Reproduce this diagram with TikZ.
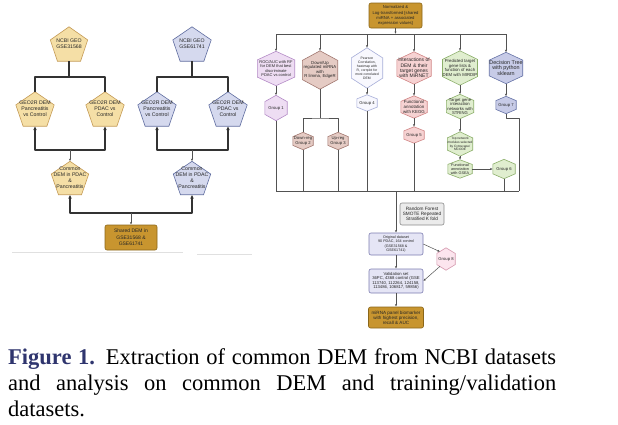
\documentclass[tikz,border=0pt]{standalone}
\usepackage{fontspec}
\setmainfont{Liberation Serif}
\newfontfamily\dgfont{Liberation Sans}
\usetikzlibrary{arrows.meta,backgrounds,calc}
\definecolor{tanF}{HTML}{F5DFA6}\definecolor{tanD}{HTML}{C49A55}
\definecolor{bluF}{HTML}{D5D9EE}\definecolor{bluD}{HTML}{5F6C9F}
\definecolor{gldF}{HTML}{C8952F}\definecolor{gldD}{HTML}{8A6619}
\definecolor{purF}{HTML}{EEDDF3}\definecolor{purD}{HTML}{B48BC6}
\definecolor{brnF}{HTML}{E5CBC4}\definecolor{brnD}{HTML}{A1776F}
\definecolor{palF}{HTML}{F8F8FE}\definecolor{palD}{HTML}{A6ADD8}
\definecolor{redF}{HTML}{F6D2D2}\definecolor{redD}{HTML}{D08585}
\definecolor{grnF}{HTML}{E0EECF}\definecolor{grnD}{HTML}{8BAE69}
\definecolor{navF}{HTML}{C7CBE7}\definecolor{navD}{HTML}{6572A6}
\definecolor{gryF}{HTML}{EBEBEB}\definecolor{gryD}{HTML}{8A8A8A}
\definecolor{lavF}{HTML}{E5E5F5}\definecolor{lavD}{HTML}{7C7CB0}
\definecolor{pnkF}{HTML}{FCE5EE}\definecolor{pnkD}{HTML}{D498AD}
\definecolor{capblue}{HTML}{2F356E}
\definecolor{wire}{HTML}{333333}

\begin{document}
\begin{tikzpicture}[x=1pt,y=-1pt,join=round,
	cell/.style 2 args={minimum width=#1pt,minimum height=#2pt,inner sep=0pt,align=center,text=black!85},
	fs/.style 2 args={font=\dgfont\fontsize{#1}{#2}\selectfont},
	rbox/.style={draw=#1D,fill=#1F,rounded corners=2pt,line width=.6pt},
	lw/.style={draw=wire,line width=1.1pt},
	rw/.style={draw=wire!85,line width=.5pt},
	twoway/.style={{Latex[length=3.8pt,width=3.6pt]}-{Latex[length=3.8pt,width=3.6pt]}},
	sarr/.style={-{Latex[length=2.4pt,width=2.2pt]}}]
	\path[use as bounding box] (0,0) rectangle (618,424);
	\node[cell={37}{34},fs={5.2}{6}] (geoA) at (69,44) {NCBI GEO\\GSE31568};
	\node[cell={38}{34},fs={5.2}{6}] (pa1) at (35,109) {GEO2R DEM\\Pancreatitis\\vs Control};
	\node[cell={38}{34},fs={5.2}{6}] (pa2) at (105,109) {GEO2R DEM\\PDAC vs\\Control};
	\node[cell={37}{33},fs={5.2}{6}] (cmA) at (70,178) {Common\\DEM in PDAC\\\&\\Pancreatitis};
	\node[cell={38}{34},fs={5.2}{6}] (geoB) at (192,44) {NCBI GEO\\GSE61741};
	\node[cell={38}{34},fs={5.2}{6}] (pb1) at (157,109) {GEO2R DEM\\Pancreatitis\\vs Control};
	\node[cell={38}{34},fs={5.2}{6}] (pb2) at (228,109) {GEO2R DEM\\PDAC vs\\Control};
	\node[cell={37}{33},fs={5.2}{6}] (cmB) at (192,178) {Common\\DEM in PDAC\\\&\\Pancreatitis};
	\node[cell={52}{25},fs={5}{6.3},rbox=gld] (shared) at (131,237.5) {Shared DEM in\\GSE31568 \&\\GSE61741};
	\node[cell={53}{25},fs={4.2}{5.1},rbox=gld] (norm) at (395.5,15.5) {Normalized \&\\Log-transformed [shared\\miRNA + associated\\expression values]};
	\node[cell={37}{34},fs={4}{4.5}] (roc) at (276,68.5) {ROC/AUC with RF\\for DEM that best\\discriminate\\PDAC vs control};
	\node[cell={35}{38},fs={4.3}{4.5}] (dwn) at (320,70) {Down/Up\\regulated miRNA\\with\\R limma, EdgeR};
	\node[cell={31}{40},fs={3.4}{4}] (prs) at (367,68) {Pearson\\Correlation,\\heatmap with\\R, corrplot for\\most correlated\\DEM};
	\node[cell={34}{32},fs={5}{5.2}] (intr) at (414,68) {Interactions of\\DEM \& their\\target genes\\with MiRNET};
	\node[cell={34}{34},fs={4.3}{4.5}] (pred) at (460,68) {Predicted target\\gene lists \&\\function of each\\DEM with MIRDIP};
	\node[cell={33}{31},fs={5.4}{5}] (dtr) at (506,68) {Decision Tree\\with python\\sklearn};
	\node[cell={22}{25},fs={4.2}{5}] (g1) at (276,108) {Group 1};
	\node[cell={20}{17},fs={4.2}{4.5}] (g2) at (303,141) {Down-reg\\Group 2};
	\node[cell={20}{17},fs={4.2}{4.5}] (g3) at (338,141) {Up-reg\\Group 3};
	\node[cell={20}{16},fs={4.2}{5}] (g4) at (367,103) {Group 4};
	\node[cell={26}{22},fs={4.4}{4.6}] (kegg) at (414,107) {Functional\\annotation\\with KEGG};
	\node[cell={20}{16},fs={4.2}{5}] (g5) at (414,135) {Group 5};
	\node[cell={27}{24},fs={4.2}{4.2}] (strg) at (460,106.5) {Target gene\\interaction\\networks with\\STRING};
	\node[cell={25}{24},fs={3.2}{3.8}] (mcod) at (460,144) {Top network\\modules selected\\by Cytoscape/\\MCODE};
	\node[cell={24}{18},fs={3.8}{4}] (gsea) at (460,169) {Functional\\annotation\\with GSEA};
	\node[cell={22}{19},fs={4.2}{5}] (g6) at (504,169) {Group 6};
	\node[cell={20}{17},fs={4.2}{5}] (g7) at (506,105) {Group 7};
	\node[cell={44}{22},fs={4.7}{5.2},rbox=gry] (rf) at (422,214) {Random Forest\\SMOTE Repeated\\Stratified K fold};
	\node[cell={54}{22},fs={3.7}{4.5},rbox=lav] (orig) at (396,244) {Original dataset\\90 PDAC, 164 control\\(GSE31568 \&\\GSE61741)};
	\node[cell={18}{22},fs={4.2}{5}] (g8) at (446,259) {Group 8};
	\node[cell={54}{24},fs={4.2}{4.3},rbox=lav] (valid) at (396,281) {Validation set\\36PC, 4368 control (GSE\\113740, 112264, 124158,\\113486, 106817, 59856)};
	\node[cell={55}{21},fs={4.6}{5},rbox=gld] (final) at (396,317.5) {miRNA panel biomarker\\with highest precision,\\recall \& AUC};
	\begin{scope}[on background layer]
		\foreach \n/\fc/\dc in {geoA/tanF/tanD,pa1/tanF/tanD,pa2/tanF/tanD,cmA/tanF/tanD,geoB/bluF/bluD,pb1/bluF/bluD,pb2/bluF/bluD,cmB/bluF/bluD}
		\filldraw[fill=\fc,draw=\dc,line width=.6pt] (\n.north) -- ($(\n.north east)!.382!(\n.south east)$) -- ($(\n.south east)!.191!(\n.south west)$) -- ($(\n.south west)!.191!(\n.south east)$) -- ($(\n.north west)!.382!(\n.south west)$) -- cycle;
		\foreach \n/\fc/\dc in {roc/purF/purD,g1/purF/purD,dwn/brnF/brnD,g2/brnF/brnD,g3/brnF/brnD,prs/palF/palD,g4/palF/palD,intr/redF/redD,kegg/redF/redD,g5/redF/redD,pred/grnF/grnD,strg/grnF/grnD,mcod/grnF/grnD,gsea/grnF/grnD,g6/grnF/grnD,dtr/navF/navD,g7/navF/navD,g8/pnkF/pnkD}
		\filldraw[fill=\fc,draw=\dc,line width=.6pt] (\n.north) -- ($(\n.north east)!.25!(\n.south east)$) -- ($(\n.north east)!.75!(\n.south east)$) -- (\n.south) -- ($(\n.north west)!.75!(\n.south west)$) -- ($(\n.north west)!.25!(\n.south west)$) -- cycle;
	\end{scope}
	\path
	(70,77) coordinate (busA) (192,77) coordinate (busB)
	(70,150) coordinate (upA) (192,150) coordinate (upB) (131,213) coordinate (upC)
	(395.5,34) coordinate (busT) (320,118) coordinate (busD)
	(276,191) coordinate (busL) (519,191) coordinate (busR);
	\draw[lw] (geoA.south) -- (geoA.south |- busA) (pa1.north) |- (busA) -| (pa2.north);
	\draw[lw] (geoB.south) -- (busB) (pb1.north) |- (busB) -| (pb2.north);
	\draw[lw,twoway] (pa1.south) |- (upA) -| (pa2.south);
	\draw[lw,twoway] (pb1.south) |- (upB) -| (pb2.south);
	\draw[lw,twoway] (cmA.south) |- (upC) -| (cmB.south);
	\foreach \a/\b in {upA/cmA.north,upB/cmB.north,upC/shared.north} \draw[rw,sarr] (\a) -- (\b);
	\draw[black!12,line width=.8pt] (12,252) -- (183,252) (197,254) -- (252,254);
	\draw[rw,sarr] (norm.south) -- (busT);
	\draw[rw] (roc.north |- busT) -- (dtr.north |- busT);
	\foreach \n in {roc,dwn,prs,intr,pred,dtr} \draw[rw,sarr] (\n.north |- busT) -- (\n.north);
	\foreach \a/\b in {roc/g1,prs/g4,intr/kegg,kegg/g5,pred/strg,strg/mcod,mcod/gsea,dtr/g7,orig/valid,valid/final} \draw[rw,sarr] (\a.south) -- (\b.north);
	\draw[rw,sarr] (gsea.east) -- (g6.west);
	\draw[rw] (dwn.south) -- (busD) (g2.north) |- (busD) -| (g3.north);
	\draw[rw] (busL) -- (busR) (g7.south) -- ++(0,5) -| (busR);
	\foreach \n in {g1,g2,g3,g4,g5,g6} \draw[rw] (\n.south) -- (\n.south |- busL);
	\draw[rw,sarr] (orig.north |- busL) -- (orig.north);
	\draw[rw,sarr] (orig.east) -- ($(g8.north west)!.35!(g8.center)$);
	\draw[rw,sarr] ($(g8.south west)!.35!(g8.center)$) -- (valid.east);
	\node[anchor=base west,text width=548pt,align=justify,inner sep=0pt,font=\fontsize{22.5}{26}\selectfont] (cap) at (8,364) {\textcolor{capblue}{\textbf{Figure 1.}} Extraction of common DEM from NCBI datasets\linebreak and analysis on common DEM and training/validation\linebreak datasets.};
\end{tikzpicture}
\end{document}
